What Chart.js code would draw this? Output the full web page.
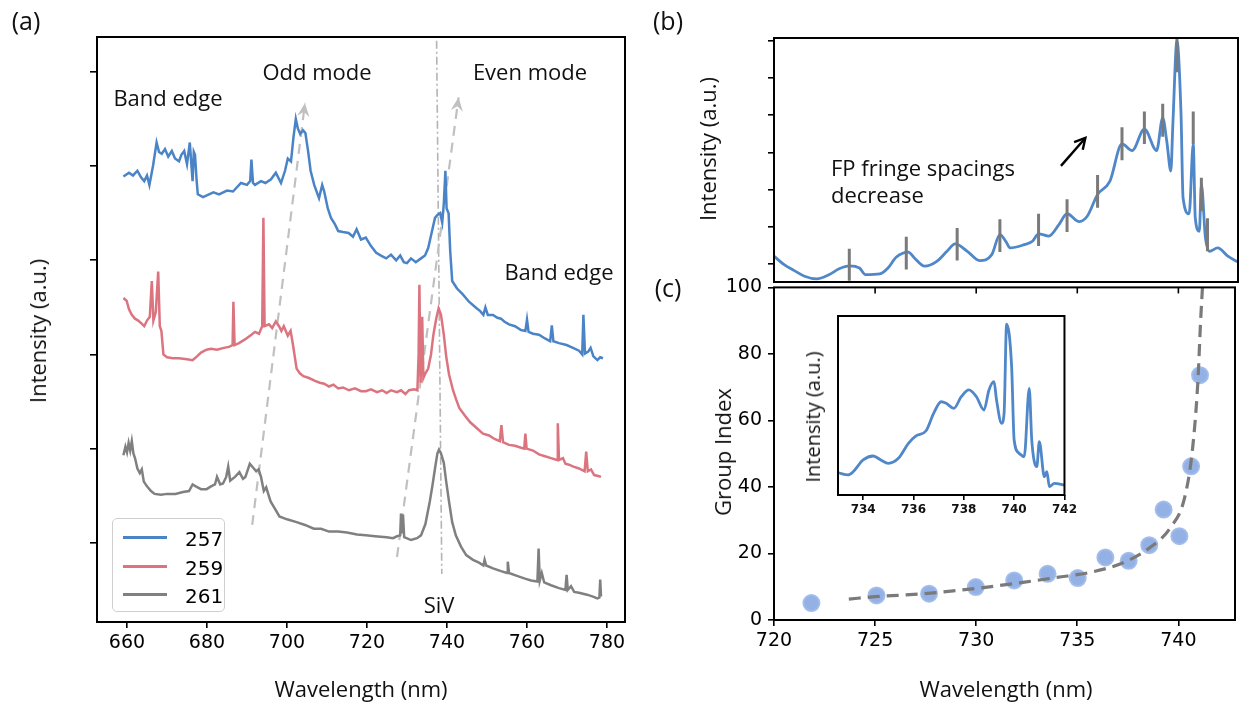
<!DOCTYPE html>
<html>
<head>
<meta charset="utf-8">
<script src="https://cdn.jsdelivr.net/npm/chart.js@4.4.1/dist/chart.umd.min.js"></script>
<style>
  html, body { margin: 0; padding: 0; background: #fff; }
  #wrap { position: relative; width: 1245px; height: 708px; overflow: hidden; background: #fff; }
  canvas { position: absolute; }
  .t { position: absolute; font-family: "Open Sans", sans-serif; font-size: 22px; color: #111;
       white-space: nowrap; line-height: 1; transform: translate(-50%, -50%); }
  .l { transform: translate(0, -50%); }
  .rot { transform: translate(-50%, -50%) rotate(-90deg); }
  .panel { font-size: 25px; }
  #legendA { position: absolute; left: 112px; top: 518px; width: 111px; height: 92px;
             border: 1.5px solid #cfcfcf; border-radius: 5px; background: #fff; }
  #legendA .row { position: absolute; left: 0; width: 100%; height: 28px; }
  #legendA .sw { position: absolute; left: 10px; top: 12px; width: 44px; height: 3px; }
  #legendA .lb { position: absolute; left: 72px; top: 3px; font: 20px "DejaVu Sans", sans-serif; color: #000; }
</style>
</head>
<body>
<div id="wrap">
  <canvas id="chartA" width="640" height="708" style="left:0;top:0"></canvas>
  <canvas id="chartB" width="605" height="284" style="left:640px;top:0"></canvas>
  <canvas id="chartC" width="605" height="438" style="left:640px;top:270px"></canvas>
  <canvas id="chartInset" width="290" height="230" style="left:790px;top:300px"></canvas>

  <div class="t panel" style="left:26px;top:20px">(a)</div>
  <div class="t panel" style="left:668px;top:20px">(b)</div>
  <div class="t panel" style="left:668px;top:287px">(c)</div>

  <div class="t" style="left:168px;top:97px">Band edge</div>
  <div class="t" style="left:317px;top:71px">Odd mode</div>
  <div class="t" style="left:530px;top:71px">Even mode</div>
  <div class="t" style="left:559px;top:271px">Band edge</div>
  <div class="t" style="left:439px;top:604px">SiV</div>
  <div class="t" style="left:361px;top:688px">Wavelength (nm)</div>
  <div class="t rot" style="left:37px;top:331px">Intensity (a.u.)</div>

  <div class="t l" style="left:831px;top:167px">FP fringe spacings</div>
  <div class="t l" style="left:831px;top:194px">decrease</div>
  <div class="t rot" style="left:707px;top:149px">Intensity (a.u.)</div>

  <div class="t rot" style="left:722px;top:452px">Group Index</div>
  <div class="t" style="left:1006px;top:688px">Wavelength (nm)</div>
  <div class="t rot" style="left:813px;top:417px;font-size:20px">Intensity (a.u.)</div>

  <div id="legendA"></div>
</div>

<script>
// ---------------- DATA: panel (a) spectra (offset units) ----------------
const seriesLabels = ["257", "259", "261"];
const seriesColors = ["#4a84c6", "#dc7480", "#808080"];

const wl257 = [659.1,660.5,661.5,662.6,663.5,664.3,665.0,665.6,666.5,667.4,668.0,668.7,669.5,670.3,671.2,672.0,673.0,673.6,674.3,675.0,675.7,676.2,676.4,676.7,677.0,677.4,677.7,679.0,680.5,681.6,683.0,685.0,686.5,688.5,690.0,690.8,691.1,691.5,692.0,693.5,694.6,696.0,697.2,698.5,699.5,700.2,701.0,701.6,702.2,702.7,703.3,704.0,704.6,705.3,705.9,706.8,708.0,708.8,709.3,710.2,711.0,712.0,712.8,714.0,715.4,716.5,717.4,718.5,719.7,721.0,722.3,723.5,724.8,726.0,727.3,728.3,729.2,730.0,731.0,732.2,733.5,734.5,735.3,736.2,737.0,737.6,738.3,738.8,739.2,739.6,739.9,740.4,740.8,741.3,742.5,743.9,745.5,747.4,748.3,749.1,749.6,750.2,751.5,752.6,753.5,754.3,755.5,757.0,758.5,759.6,760.0,760.4,761.5,763.0,764.5,765.8,766.2,766.6,768.0,769.9,771.5,773.0,773.8,774.1,774.5,775.3,775.9,776.6,777.6,778.3,779.0];
const int257 = [4.89,4.93,4.90,4.95,4.88,4.84,4.90,4.80,5.00,5.25,5.15,5.13,5.18,5.10,5.16,5.08,5.05,5.12,5.16,5.02,5.25,4.95,4.84,5.15,5.12,4.85,4.70,4.67,4.70,4.72,4.70,4.74,4.73,4.82,4.80,4.84,5.07,4.82,4.80,4.84,4.82,4.86,4.93,4.82,4.95,5.08,5.05,5.30,5.50,5.40,5.34,5.38,5.35,5.15,4.95,4.80,4.66,4.80,4.73,4.55,4.45,4.38,4.31,4.30,4.29,4.25,4.33,4.22,4.24,4.15,4.08,4.05,4.02,4.06,4.00,4.05,3.98,3.97,4.02,3.98,4.02,4.05,4.13,4.30,4.45,4.48,4.50,4.40,4.60,4.95,4.55,4.50,4.10,3.78,3.70,3.64,3.56,3.49,3.46,3.42,3.50,3.42,3.42,3.39,3.38,3.35,3.32,3.30,3.26,3.25,3.37,3.24,3.22,3.21,3.17,3.14,3.31,3.14,3.12,3.10,3.07,3.04,3.00,3.42,3.01,3.03,3.07,2.98,2.94,2.97,2.96];

const wl259 = [659.1,659.9,660.5,661.2,662.0,662.8,663.6,664.3,665.0,665.7,666.2,666.6,667.2,667.8,668.2,668.6,669.1,670.0,671.5,673.0,675.0,676.4,677.5,678.5,679.9,681.0,682.5,684.2,685.5,686.4,686.6,686.9,688.0,689.5,691.1,692.0,693.0,693.8,694.1,694.4,695.5,696.3,697.2,698.0,698.6,699.2,700.2,700.9,701.5,702.4,703.2,704.1,705.5,707.0,708.2,709.3,710.5,711.6,712.8,714.0,715.5,717.0,718.5,719.7,721.0,722.5,723.8,724.9,726.0,727.5,728.5,729.6,730.5,731.8,732.6,732.9,733.1,733.4,733.8,734.1,734.6,735.3,736.0,736.6,737.3,737.9,738.5,739.2,739.8,740.5,741.5,742.3,743.1,744.5,745.8,747.4,749.0,750.5,752.0,753.2,753.6,754.0,755.5,757.0,758.5,759.3,759.6,759.9,761.5,763.0,764.5,766.0,767.5,767.7,768.0,769.0,769.6,770.5,771.6,773.0,774.4,774.8,775.2,776.0,776.8,777.8,778.5];
const int259 = [3.60,3.57,3.48,3.42,3.38,3.36,3.33,3.30,3.36,3.40,3.78,3.36,3.45,3.88,3.30,3.25,3.00,2.97,2.96,2.96,2.95,2.94,2.98,3.02,3.05,3.06,3.05,3.07,3.08,3.10,3.56,3.10,3.12,3.16,3.21,3.24,3.22,3.30,4.45,3.30,3.32,3.28,3.35,3.30,3.25,3.30,3.20,3.25,3.10,2.85,2.80,2.77,2.75,2.72,2.70,2.69,2.66,2.68,2.64,2.65,2.62,2.64,2.61,2.61,2.63,2.60,2.62,2.59,2.62,2.60,2.62,2.58,2.62,2.63,2.62,3.00,3.74,2.70,3.40,2.75,2.80,2.85,3.00,3.21,3.38,3.49,3.42,3.21,2.98,2.79,2.62,2.52,2.43,2.35,2.28,2.22,2.16,2.14,2.10,2.08,2.25,2.07,2.04,2.03,2.01,2.00,2.16,2.00,1.98,1.94,1.92,1.90,1.88,2.27,1.88,1.90,1.84,1.83,1.81,1.79,1.76,1.97,1.76,1.78,1.72,1.71,1.70];

const wl261 = [659.1,659.6,660.0,660.4,660.8,661.2,661.6,662.0,662.6,663.2,663.7,664.2,665.0,666.0,666.9,668.5,670.0,672.1,674.0,675.5,676.4,677.2,678.5,679.9,681.0,682.0,682.5,683.3,684.0,684.8,685.3,685.8,687.0,688.1,689.0,689.6,690.7,691.5,692.3,692.9,693.5,694.2,694.8,695.3,695.9,697.0,698.1,700.0,702.4,704.5,706.7,708.5,710.5,712.8,715.0,717.5,719.7,722.0,724.9,726.5,727.5,728.3,728.5,728.8,729.0,729.3,731.0,732.5,733.5,734.6,735.7,736.4,737.0,737.6,738.0,738.5,739.2,739.8,740.5,741.3,742.2,743.5,744.8,746.5,748.0,749.1,749.4,749.8,751.5,753.5,755.0,755.2,755.5,757.5,759.5,761.0,762.6,762.9,763.2,763.7,764.3,766.0,768.0,769.6,769.9,770.2,771.0,771.8,773.0,775.0,776.5,777.6,778.1,778.3,778.5];
const int261 = [1.93,2.02,1.96,2.06,1.98,2.08,1.95,1.90,1.79,1.74,1.78,1.65,1.60,1.55,1.52,1.51,1.52,1.52,1.54,1.55,1.62,1.60,1.57,1.57,1.60,1.62,1.70,1.62,1.63,1.70,1.81,1.66,1.70,1.75,1.68,1.70,1.84,1.80,1.76,1.78,1.70,1.55,1.59,1.52,1.44,1.36,1.28,1.25,1.22,1.19,1.15,1.15,1.12,1.12,1.11,1.09,1.08,1.07,1.06,1.05,1.07,1.08,1.31,1.10,1.30,1.06,1.03,1.05,1.08,1.20,1.44,1.62,1.79,1.95,1.99,1.95,1.85,1.65,1.44,1.22,1.08,0.96,0.87,0.82,0.79,0.76,0.82,0.76,0.73,0.70,0.68,0.80,0.68,0.65,0.62,0.60,0.59,0.94,0.60,0.68,0.58,0.55,0.52,0.50,0.66,0.50,0.54,0.48,0.47,0.45,0.43,0.41,0.42,0.61,0.43];

// guide lines in (a)
const oddModeWl = [691.3, 704.5];
const oddModeY = [1.19, 5.67];
const evenModeWl = [727.5, 742.9];
const evenModeY = [0.85, 5.73];
const sivWl = [737.4, 738.7];
const sivY = [6.33, 0.67];

const ticksAx = [660, 680, 700, 720, 740, 760, 780];
const ticksAy = [1, 2, 3, 4, 5, 6];

// ---------------- DATA: panel (b) ----------------
const wlB = [720.0,720.5,721.0,721.5,722.1,722.7,723.2,723.7,724.2,724.5,725.2,725.6,726.0,726.6,726.9,727.4,728.0,728.5,728.9,729.5,730.1,730.7,731.1,731.4,731.6,732.3,732.7,733.0,733.5,734.0,734.4,735.0,735.4,735.9,736.5,737.1,737.6,738.2,738.8,739.1,739.3,739.5,739.6,739.8,740.0,740.1,740.4,740.6,740.7,740.9,741.0,741.2,741.4,741.8,742.3,742.8];
const intB = [0.21,-0.02,-0.18,-0.33,-0.40,-0.29,-0.13,-0.05,-0.11,-0.29,-0.27,-0.11,0.18,0.32,0.16,-0.06,0.07,0.34,0.54,0.34,0.09,0.25,0.79,0.60,0.43,0.52,0.61,0.81,0.75,1.06,1.35,1.14,1.29,1.87,2.22,3.23,3.05,3.63,3.05,3.93,3.30,2.50,3.77,6.00,4.04,1.78,1.35,3.23,1.24,0.88,2.14,0.70,0.34,0.43,0.21,0.05];

const fringeWl = [723.7, 726.5, 729.0, 731.1, 733.0, 734.4, 735.9, 737.1, 738.2, 739.1, 739.8, 740.6, 741.0, 741.3];
const fringeTop = [0.41, 0.73, 0.97, 1.20, 1.35, 1.74, 2.39, 3.68, 4.10, 4.31, 6.06, 4.10, 2.32, 1.23];
const fringeBottom = [-0.45, -0.15, 0.09, 0.32, 0.48, 0.86, 1.51, 2.79, 3.23, 3.42, 5.16, 3.23, 1.42, 0.34];

const arrowBWl = [734.1, 735.3];
const arrowBY = [2.64, 3.39];

const ticksBy = [0, 1, 2, 3, 4, 5, 6];

// ---------------- DATA: panel (c) ----------------
const giWl = [721.85, 725.07, 727.67, 729.98, 731.88, 733.53, 735.02, 736.39, 737.54, 738.56, 739.27, 740.05, 740.63, 741.07];
const giVal = [5.1, 7.4, 7.9, 9.9, 11.9, 13.9, 12.6, 18.8, 17.8, 22.5, 33.2, 25.2, 46.2, 73.6];

const fitWl = [723.7, 725.0, 727.4, 730.0, 732.4, 734.0, 735.7, 737.3, 738.6, 739.6, 740.3, 740.7, 740.96, 741.1, 741.2];
const fitVal = [6.3, 7.0, 7.9, 9.5, 11.4, 12.8, 14.4, 17.3, 21.8, 27.7, 36.6, 51.5, 71.3, 90, 101];

const ticksCx = [720, 725, 730, 735, 740];
const ticksCy = [0, 20, 40, 60, 80, 100];

// ---------------- DATA: inset ----------------
const wlInset = [733.0,733.4,733.6,734.0,734.4,734.7,735.0,735.4,735.8,736.1,736.5,736.8,737.1,737.3,737.6,737.9,738.2,738.5,738.8,739.0,739.2,739.3,739.5,739.6,739.7,739.9,740.0,740.2,740.4,740.6,740.7,740.9,741.0,741.2,741.3,741.4,741.6,742.0];
const intInset = [1.25,1.12,1.30,1.96,2.18,1.96,1.77,2.05,2.89,3.30,3.59,4.56,5.21,5.12,4.84,5.49,5.87,5.49,4.75,5.87,6.33,5.31,4.00,4.56,9.55,7.17,3.07,2.33,2.14,5.96,3.07,1.58,2.98,1.02,1.30,0.47,0.65,0.56];
const ticksInsetX = [734, 736, 738, 740, 742];

// ---------------- HELPERS ----------------
const pts = (xs, ys) => xs.map((x, i) => ({ x: x, y: ys[i] }));
const fixTicks = list => s => { s.ticks = list.map(v => ({ value: v })); };
const tickFont = { family: "DejaVu Sans", size: 19 };
const tickGrid = len => ({ display: true, drawOnChartArea: false, drawTicks: true, tickLength: len, color: "#000", lineWidth: 1.6 });

// frame around the plot area, plus optional inward ticks on top
const framePlugin = {
    id: "frame",
    afterDraw(chart, args, opts) {
        const { ctx, chartArea: a } = chart;
        ctx.save();
        ctx.strokeStyle = "#000";
        ctx.lineWidth = opts.width || 2;
        ctx.strokeRect(a.left, a.top, a.right - a.left, a.bottom - a.top);
        if (opts.topTicks) {
            const xs = chart.scales.x;
            ctx.lineWidth = 1.6;
            xs.ticks.forEach(t => {
                const px = xs.getPixelForValue(t.value);
                ctx.beginPath();
                ctx.moveTo(px, a.top);
                ctx.lineTo(px, a.top + 6);
                ctx.stroke();
            });
        }
        ctx.restore();
    }
};

// arrow heads at the end of datasets flagged with arrowHead
const arrowPlugin = {
    id: "arrowHeads",
    afterDatasetsDraw(chart) {
        const ctx = chart.ctx;
        chart.data.datasets.forEach((ds, i) => {
            if (!ds.arrowHead) return;
            const el = chart.getDatasetMeta(i).data;
            const p1 = el[el.length - 2], p2 = el[el.length - 1];
            const ang = Math.atan2(p2.y - p1.y, p2.x - p1.x);
            const len = ds.arrowHead === "filled" ? 15 : 12;
            const half = ds.arrowHead === "filled" ? 0.42 : 0.5;
            const ax = p2.x - len * Math.cos(ang - half), ay = p2.y - len * Math.sin(ang - half);
            const bx = p2.x - len * Math.cos(ang + half), by = p2.y - len * Math.sin(ang + half);
            ctx.save();
            ctx.setLineDash([]);
            if (ds.arrowHead === "filled") {
                ctx.fillStyle = ds.borderColor;
                ctx.beginPath();
                ctx.moveTo(p2.x, p2.y);
                ctx.lineTo(ax, ay);
                ctx.lineTo(p2.x - 9 * Math.cos(ang), p2.y - 9 * Math.sin(ang));
                ctx.lineTo(bx, by);
                ctx.closePath();
                ctx.fill();
            } else {
                ctx.strokeStyle = ds.borderColor;
                ctx.lineWidth = ds.borderWidth;
                ctx.beginPath();
                ctx.moveTo(ax, ay);
                ctx.lineTo(p2.x, p2.y);
                ctx.lineTo(bx, by);
                ctx.stroke();
            }
            ctx.restore();
        });
    }
};

const baseOpts = {
    responsive: false,
    animation: false,
    devicePixelRatio: 1,
    plugins: { legend: { display: false }, tooltip: { enabled: false } },
    elements: { point: { radius: 0 } }
};

// ---------------- PANEL (a) ----------------
const spectra = [[wl257, int257], [wl259, int259], [wl261, int261]];
const chartA = new Chart(document.getElementById("chartA"), {
    type: "line",
    data: {
        datasets: spectra.map((s, i) => ({
            label: seriesLabels[i],
            data: pts(s[0], s[1]),
            borderColor: seriesColors[i],
            borderWidth: 2.5,
            inLegend: true
        })).concat([
            { data: pts(oddModeWl, oddModeY), borderColor: "#c0c0c0", borderWidth: 2.2, borderDash: [10, 7], arrowHead: "filled" },
            { data: pts(evenModeWl, evenModeY), borderColor: "#c0c0c0", borderWidth: 2.2, borderDash: [10, 7], arrowHead: "filled" },
            { data: pts(sivWl, sivY), borderColor: "#b4b4b4", borderWidth: 1.6, borderDash: [8, 3, 2, 3] }
        ])
    },
    options: Object.assign({}, baseOpts, {
        layout: { padding: { top: 37, right: 15, left: 0, bottom: 0 } },
        plugins: Object.assign({}, baseOpts.plugins, { frame: { width: 2 } }),
        scales: {
            x: {
                type: "linear", min: 652.5, max: 784.5,
                afterBuildTicks: fixTicks(ticksAx),
                afterFit: s => { s.height = 86; },
                ticks: { font: tickFont, color: "#000", padding: 4, autoSkip: false, maxRotation: 0 },
                grid: tickGrid(6),
                border: { display: false }
            },
            y: {
                min: 0.16, max: 6.37,
                afterBuildTicks: fixTicks(ticksAy),
                afterFit: s => { s.width = 97; },
                ticks: { display: false },
                grid: tickGrid(7),
                border: { display: false }
            }
        }
    }),
    plugins: [framePlugin, arrowPlugin]
});

// legend for (a), built from the spectra datasets
const legendBox = document.getElementById("legendA");
chartA.data.datasets.filter(d => d.inLegend).forEach((d, i) => {
    const row = document.createElement("div");
    row.className = "row";
    row.style.top = (5 + i * 28.5) + "px";
    row.innerHTML = `<div class="sw" style="background:${d.borderColor}"></div><div class="lb">${d.label}</div>`;
    legendBox.appendChild(row);
});

// ---------------- PANEL (b) ----------------
const fringeMarks = [];
fringeWl.forEach((w, i) => {
    fringeMarks.push({ x: w, y: fringeTop[i] }, { x: w, y: fringeBottom[i] }, { x: w, y: null });
});

new Chart(document.getElementById("chartB"), {
    type: "line",
    data: {
        datasets: [
            { data: fringeMarks, borderColor: "#7a7a7a", borderWidth: 3, spanGaps: false },
            { data: pts(wlB, intB), borderColor: "#4f87c9", borderWidth: 2.8, cubicInterpolationMode: "monotone" },
            { data: pts(arrowBWl, arrowBY), borderColor: "#000", borderWidth: 2.4, arrowHead: "open" }
        ]
    },
    options: Object.assign({}, baseOpts, {
        layout: { padding: { top: 38, right: 7, left: 0, bottom: 2 } },
        plugins: Object.assign({}, baseOpts.plugins, { frame: { width: 2 } }),
        scales: {
            x: { type: "linear", min: 720, max: 742.8, display: false },
            y: {
                min: -0.486, max: 6.08,
                afterBuildTicks: fixTicks(ticksBy),
                afterFit: s => { s.width = 134; },
                ticks: { display: false },
                grid: tickGrid(6),
                border: { display: false }
            }
        }
    }),
    plugins: [framePlugin, arrowPlugin]
});

// ---------------- PANEL (c) ----------------
new Chart(document.getElementById("chartC"), {
    type: "line",
    data: {
        datasets: [
            { data: pts(fitWl, fitVal), borderColor: "#7a7a7a", borderWidth: 3.2, borderDash: [12, 7], cubicInterpolationMode: "monotone" },
            {
                data: pts(giWl, giVal), showLine: false,
                pointRadius: 8, pointBackgroundColor: "rgba(118,155,222,0.78)",
                pointBorderColor: "rgba(160,188,235,0.95)", pointBorderWidth: 2
            }
        ]
    },
    options: Object.assign({}, baseOpts, {
        layout: { padding: { top: 12, right: 7, left: 0, bottom: 0 } },
        plugins: Object.assign({}, baseOpts.plugins, { frame: { width: 2, topTicks: true } }),
        scales: {
            x: {
                type: "linear", min: 720, max: 742.8,
                afterBuildTicks: fixTicks(ticksCx),
                afterFit: s => { s.height = 88; },
                ticks: { font: tickFont, color: "#000", padding: 4, autoSkip: false, maxRotation: 0 },
                grid: tickGrid(6),
                border: { display: false }
            },
            y: {
                min: 0, max: 100,
                afterBuildTicks: fixTicks(ticksCy),
                afterFit: s => { s.width = 134; },
                ticks: { font: tickFont, color: "#000", padding: 6 },
                grid: tickGrid(6),
                border: { display: false }
            }
        }
    }),
    plugins: [framePlugin]
});

// ---------------- INSET ----------------
new Chart(document.getElementById("chartInset"), {
    type: "line",
    data: {
        datasets: [
            { data: pts(wlInset, intInset), borderColor: "#4f87c9", borderWidth: 2.8, cubicInterpolationMode: "monotone" }
        ]
    },
    options: Object.assign({}, baseOpts, {
        layout: { padding: { top: 16, right: 7, left: 48, bottom: 0 } },
        plugins: Object.assign({}, baseOpts.plugins, { frame: { width: 2 } }),
        scales: {
            x: {
                type: "linear", min: 733, max: 742,
                afterBuildTicks: fixTicks(ticksInsetX),
                afterFit: s => { s.height = 35; },
                ticks: { font: { family: "DejaVu Sans", size: 12, weight: "bold" }, color: "#111", padding: 3, autoSkip: false, maxRotation: 0 },
                grid: tickGrid(5),
                border: { display: false }
            },
            y: { min: 0, max: 10, display: false }
        }
    }),
    plugins: [framePlugin]
});
</script>
</body>
</html>
